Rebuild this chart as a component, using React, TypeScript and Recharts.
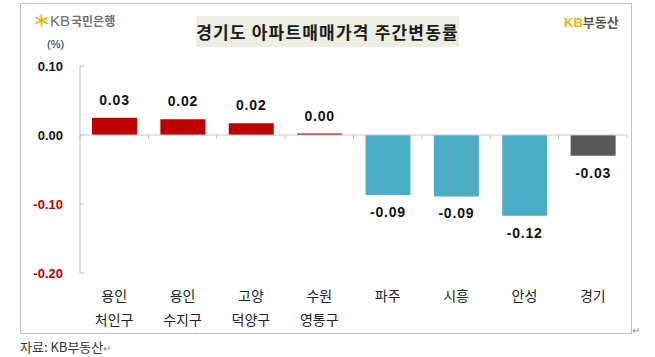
import React from 'react';
import { BarChart, Bar, XAxis, YAxis, Cell, LabelList, ReferenceLine } from 'recharts';

const line1 = ['용인', '용인', '고양', '수원', '파주', '시흥', '안성', '경기'];
const line2 = ['처인구', '수지구', '덕양구', '영통구', '', '', '', ''];
const values = [0.025, 0.023, 0.017, 0.002, -0.087, -0.089, -0.117, -0.03];
const valueLabels = ['0.03', '0.02', '0.02', '0.00', '-0.09', '-0.09', '-0.12', '-0.03'];
const barColors = ['#C00000', '#C00000', '#C00000', '#C00000', '#4BACC6', '#4BACC6', '#4BACC6', '#595959'];
const yTicks = [0.1, 0, -0.1, -0.2];
const yTickLabels = ['0.10', '0.00', '-0.10', '-0.20'];

const data = line1.map((l, i) => ({ key: l + line2[i], value: values[i], label: valueLabels[i] }));

const NUM_FONT = '"Liberation Sans", Arial, sans-serif';
const KR_FONT = '"Noto Sans CJK KR", "Noto Sans", sans-serif';

const YTick = (props: any) => {
  const { x, y, payload } = props;
  const idx = yTicks.indexOf(payload.value);
  const label = idx >= 0 ? yTickLabels[idx] : String(payload.value);
  const neg = payload.value < 0;
  return (
    <g>
      <line x1={x + 17} x2={x + 21} y1={y} y2={y} stroke="#bfbfbf" />
      <text x={x} y={y} textAnchor="end" dominantBaseline="central" fontFamily={NUM_FONT} fontWeight={700} fontSize={13} fill={neg ? '#C00000' : '#111'}>
        {label}
      </text>
    </g>
  );
};

const XTick = (props: any) => {
  const { x, y, payload } = props;
  const i = payload.index;
  return (
    <g>
      <text x={x} y={y + 22} textAnchor="middle" dominantBaseline="central" fontFamily={KR_FONT} fontSize={14} fill="#222">
        {line1[i]}
      </text>
      {line2[i] ? (
        <text x={x} y={y + 46} textAnchor="middle" dominantBaseline="central" fontFamily={KR_FONT} fontSize={14} fill="#222">
          {line2[i]}
        </text>
      ) : null}
    </g>
  );
};

const ValueLabel = (props: any) => {
  const { x, y, width, height, index } = props;
  const top = Math.min(y, y + height);
  const bottom = Math.max(y, y + height);
  const v = values[index];
  const cy = v >= 0 ? top - 18 : bottom + 17;
  return (
    <text x={x + width / 2} y={cy} textAnchor="middle" dominantBaseline="central" fontFamily={NUM_FONT} fontWeight={700} fontSize={14} letterSpacing={0.8} fill="#111">
      {valueLabels[index]}
    </text>
  );
};

const Star = () => (
  <svg width={13} height={13} viewBox="0 0 12 12" style={{ position: 'absolute', left: 35, top: 14 }}>
    <g stroke="#F2B200" strokeWidth={1.6} strokeLinecap="round">
      <line x1={6} y1={1} x2={6} y2={11} />
      <line x1={1} y1={3.5} x2={11} y2={8.5} />
      <line x1={1} y1={8.5} x2={11} y2={3.5} />
    </g>
  </svg>
);

export default function App() {
  return (
    <div style={{ position: 'fixed', left: 0, top: 0, width: 655, height: 357, background: '#fff', overflow: 'hidden' }}>
      <div style={{ position: 'absolute', left: 20, top: 3, width: 610, height: 329, border: '1px solid #c0c0c0' }} />
      <div style={{ position: 'absolute', left: 0, top: 0 }}>
        <BarChart width={655} height={357} data={data} margin={{ top: 66, right: 28, bottom: 0, left: 0 }}>
          <XAxis dataKey="key" axisLine={false} tickLine={false} tickSize={0} tickMargin={0} height={84} tick={<XTick />} interval={0} />
          <YAxis width={80} domain={[-0.2, 0.1]} ticks={yTicks} axisLine={{ stroke: '#bfbfbf' }} tickLine={false} tickSize={0} tickMargin={17} tick={<YTick />} />
          <ReferenceLine y={0} stroke="#c8c8c8" />
          {data.map((d) => (
            <ReferenceLine key={'t' + d.key} segment={[{ x: d.key, y: 0 }, { x: d.key, y: -0.006 }]} position="start" stroke="#bfbfbf" />
          ))}
          <ReferenceLine segment={[{ x: data[data.length - 1].key, y: 0 }, { x: data[data.length - 1].key, y: -0.006 }]} position="end" stroke="#bfbfbf" />
          <Bar dataKey="value" barSize={45} isAnimationActive={false}>
            {data.map((d, i) => (
              <Cell key={d.key} fill={barColors[i]} />
            ))}
            <LabelList dataKey="label" content={<ValueLabel />} />
          </Bar>
        </BarChart>
      </div>
      <div style={{ position: 'absolute', left: 196, top: 16, width: 263, height: 31, background: '#ECEEE1', display: 'flex', alignItems: 'center', justifyContent: 'center', fontFamily: KR_FONT, fontWeight: 700, fontSize: 17, letterSpacing: 1.2, color: '#1a1a1a', whiteSpace: 'nowrap' }}>
        경기도 아파트매매가격 주간변동률
      </div>
      <Star />
      <div style={{ position: 'absolute', left: 50, top: 12, fontFamily: NUM_FONT, fontSize: 15, color: '#707070', whiteSpace: 'nowrap' }}>
        KB<span style={{ fontFamily: KR_FONT, fontSize: 12, fontWeight: 700, marginLeft: 1 }}>국민은행</span>
      </div>
      <div style={{ position: 'absolute', left: 564, top: 12, fontFamily: KR_FONT, fontSize: 13, fontWeight: 700, whiteSpace: 'nowrap' }}>
        <span style={{ color: '#F4B400', fontFamily: NUM_FONT }}>KB</span>
        <span style={{ color: '#555' }}>부동산</span>
      </div>
      <div style={{ position: 'absolute', left: 47, top: 38, fontFamily: NUM_FONT, fontSize: 11, color: '#222' }}>(%)</div>
      <div style={{ position: 'absolute', left: 20, top: 337, fontFamily: KR_FONT, fontSize: 13, color: '#333', whiteSpace: 'nowrap' }}>
        자료: KB부동산<span style={{ color: '#888', fontSize: 10 }}>↵</span>
      </div>
      <div style={{ position: 'absolute', left: 632, top: 322, fontFamily: KR_FONT, fontSize: 10, color: '#888' }}>↵</div>
    </div>
  );
}
